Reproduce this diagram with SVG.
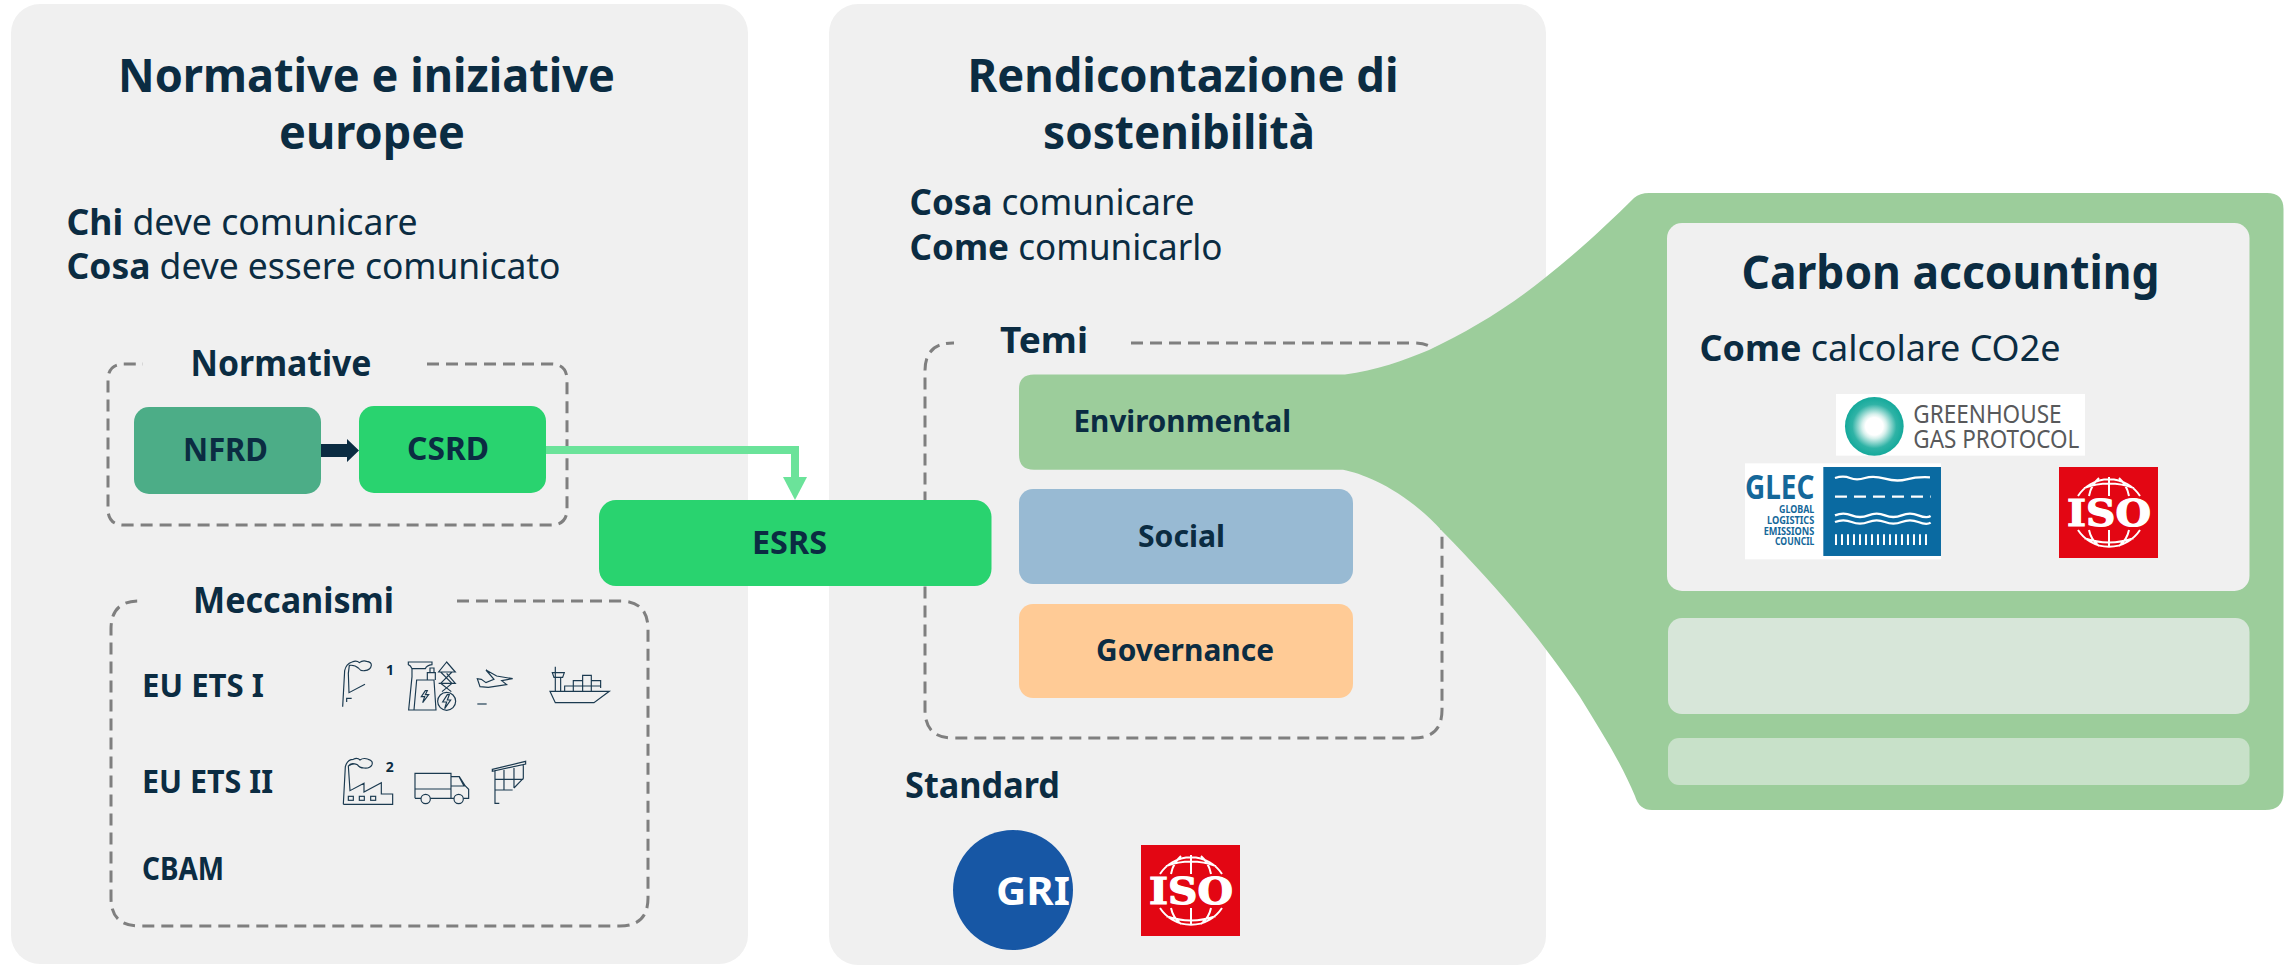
<svg xmlns="http://www.w3.org/2000/svg" width="2290" height="966" viewBox="0 0 2290 966">
<style>
text{font-family:"Noto Sans","Open Sans","DejaVu Sans",sans-serif;fill:#0b2c42}
.b{font-weight:700}
.r{font-weight:400}
.t{font-size:46px;font-weight:700}
.h{font-size:36px;font-weight:700}
.p{font-size:36px;font-weight:400}
.l{font-size:33px;font-weight:700}
.m{font-size:30px;font-weight:700}
.dash{fill:none;stroke:#7f7f7f;stroke-width:3;stroke-dasharray:12 7}
.ic{fill:none;stroke:#1b3a50;stroke-width:3.5}
.wh{fill:none;stroke:#fff;stroke-width:7}
.gl{font-weight:700;fill:#15689a}
.gh{font-size:75px;font-weight:400;fill:#58595b}
</style>
<defs>
<radialGradient id="ghg"><stop offset="0.3" stop-color="#ffffff"/><stop offset="0.42" stop-color="#d6f0ec"/><stop offset="0.75" stop-color="#2fb3a6"/><stop offset="1" stop-color="#14a99b"/></radialGradient>
<g id="iso">
<rect width="99" height="91" fill="#e30613"/>
<g fill="none" stroke="#fff" stroke-width="2">
<path d="M19 29A37 37 0 0 1 81 29M25 21Q50 12 75 21M50 10V29M40 11Q32 18 30 29M60 11Q68 18 70 29"/>
<path d="M19 63A37 37 0 0 0 81 63M25 71Q50 80 75 71M50 63V80M30 63Q32 73 40 79M70 63Q68 73 60 79"/>
</g>
<text x="8" y="59" font-size="38" textLength="84" lengthAdjust="spacingAndGlyphs" style="font-family:'DejaVu Serif',serif;font-weight:700;fill:#fff;stroke:#fff;stroke-width:1.200">ISO</text>
</g>
</defs>
<rect width="2290" height="966" fill="#fff"/>

<g id="panel-normative">
<rect x="11" y="4" width="737" height="960" rx="29" fill="#f0f0f0"/>
<text class="t" x="118" y="92" textLength="497" lengthAdjust="spacingAndGlyphs">Normative e iniziative</text>
<text class="t" x="279" y="149" textLength="186" lengthAdjust="spacingAndGlyphs">europee</text>
<text class="p" x="66.500" y="235" textLength="351" lengthAdjust="spacingAndGlyphs"><tspan class="b">Chi</tspan> deve comunicare</text>
<text class="p" x="66.500" y="279" textLength="494" lengthAdjust="spacingAndGlyphs"><tspan class="b">Cosa</tspan> deve essere comunicato</text>
</g>
<g id="panel-rendicontazione">
<rect x="829" y="4" width="717" height="961" rx="29" fill="#f0f0f0"/>
<text class="t" x="967.500" y="92" textLength="431" lengthAdjust="spacingAndGlyphs">Rendicontazione di</text>
<text class="t" x="1043" y="149" textLength="272" lengthAdjust="spacingAndGlyphs">sostenibilità</text>
<text class="p" x="909.500" y="215" textLength="285" lengthAdjust="spacingAndGlyphs"><tspan class="b">Cosa</tspan> comunicare</text>
<text class="p" x="909.500" y="260" textLength="313" lengthAdjust="spacingAndGlyphs"><tspan class="b">Come</tspan> comunicarlo</text>
</g>

<g id="group-normative">
<path class="dash" d="M427 364H551Q567 364 567 380V509Q567 525 551 525H124Q108 525 108 509V380Q108 364 124 364H143"/>
<text class="h" x="190.500" y="376" textLength="181" lengthAdjust="spacingAndGlyphs">Normative</text>
</g>
<g id="group-meccanismi">
<path class="dash" d="M457 601H620Q648 601 648 629V898Q648 926 620 926H139Q111 926 111 898V629Q111 601 139 601H143"/>
<text class="h" x="193" y="613" textLength="201" lengthAdjust="spacingAndGlyphs">Meccanismi</text>
</g>
<g id="mech-ets1">
<text class="l" x="142" y="697" textLength="122" lengthAdjust="spacingAndGlyphs">EU ETS I</text>
<g transform="translate(320 640) scale(.3333)">
<g class="ic">
<path d="M68 200L74 92Q78 72 96 66Q110 60 118 68Q128 60 140 64Q155 66 154 76Q152 90 134 92Q122 94 115 84Q105 74 88 76L85 100L87 158L135 133"/>
<path d="M80 186V175H95"/>
<path d="M265 66H336V74Q320 76 316 86H276Q272 76 265 74ZM276 86V110L266 210H348L342 120H290L282 210M322 120V98H346V120M330 98V84H342V98M316 152L304 170H314L308 188L326 164H316L322 152Z"/>
<circle cx="380" cy="184" r="27"/>
<path d="M382 164L368 186H380L374 206L392 180H382L388 164ZM380 66L356 96H406ZM362 96L396 130M396 96L362 130M356 130H406L380 100M362 130L394 155M396 130L366 155"/>
<path d="M498 90L530 108L578 116L545 122L560 134L505 142L480 140L472 116L484 118L498 128L522 118Z"/>
<path d="M472 192H500"/>
<path d="M690 154H868L822 188H706ZM706 154V100M722 154V112M697 98H733L728 112H702ZM706 98V80M734 154V138H760V154M760 154V122H788V154M788 154V106H814V154M814 154V122H842V144M760 138H842"/>
</g>
<text x="198" y="105" font-size="42" class="b">1</text>
</g>
</g>
<g id="mech-ets2">
<text class="l" x="142" y="793" textLength="131" lengthAdjust="spacingAndGlyphs">EU ETS II</text>
<g transform="translate(320 640) scale(.3333)">
<g class="ic">
<path d="M70 493H218V462H184V428L132 456V430L90 452L85 378Q92 368 104 372M70 493L76 380Q82 358 100 358Q112 352 120 360Q130 352 145 358Q160 362 156 374Q150 386 132 384Q118 384 112 374Q100 368 85 378"/>
<rect x="85" y="469" width="15" height="12"/><rect x="118" y="469" width="15" height="12"/><rect x="152" y="469" width="15" height="12"/>
<path d="M285 475V400H393V475M285 447H393M393 410H418L436 438L446 448V475H430M393 438H432L418 412M285 475H303M331 475H402"/>
<circle cx="317" cy="477" r="14"/><circle cx="416" cy="477" r="14"/>
<path d="M517 388L617 364V372L517 394ZM525 394V490H538M552 390V450M582 384V444M610 372V415L582 444M525 418H610M525 450H578"/>
</g>
<text x="197" y="395" font-size="42" class="b">2</text>
</g>
</g>
<g id="mech-cbam"><text class="l" x="142" y="880" textLength="82" lengthAdjust="spacingAndGlyphs">CBAM</text></g>

<g id="node-nfrd">
<rect x="134" y="407" width="187" height="87" rx="15" fill="#4cad87"/>
<text class="l" x="183" y="461" textLength="85" lengthAdjust="spacingAndGlyphs">NFRD</text>
</g>
<g id="node-csrd">
<rect x="359" y="406" width="187" height="87" rx="15" fill="#29d36f"/>
<text class="l" x="407" y="460" textLength="82" lengthAdjust="spacingAndGlyphs">CSRD</text>
</g>

<g id="temi">
<path class="dash" d="M1131 343H1414Q1442 343 1442 371V710Q1442 738 1414 738H953Q925 738 925 710V371Q925 343 953 343H954"/>
<text class="h" x="1000" y="353" textLength="88" lengthAdjust="spacingAndGlyphs">Temi</text>
</g>
<g id="node-carbon-callout">
<path fill="#9ccd9b" d="M1034 374.500H1345C1375 371 1405 360 1429 350C1470 330 1505 310 1546 277C1580 250 1610 222 1634 198Q1640 193 1649 193H2267Q2283.500 193 2283.500 209V792Q2283.500 810 2265 810H1652Q1639 810 1635 796C1620 760 1600 730 1580 697C1535 630 1490 580 1443 532C1405 490 1365 474 1343 469.700H1034Q1019 469.700 1019 455V389Q1019 374.500 1034 374.500Z"/>
<text class="m" x="1073.500" y="432" textLength="217.500" lengthAdjust="spacingAndGlyphs">Environmental</text>
</g>
<g id="node-social">
<rect x="1019" y="489" width="334" height="95" rx="14" fill="#98bad3"/>
<text class="m" x="1138" y="547" textLength="87" lengthAdjust="spacingAndGlyphs">Social</text>
</g>
<g id="node-governance">
<rect x="1019" y="604" width="334" height="94" rx="14" fill="#ffcb96"/>
<text class="m" x="1096" y="661" textLength="178" lengthAdjust="spacingAndGlyphs">Governance</text>
</g>
<g id="node-esrs">
<rect x="599" y="500" width="392.500" height="86" rx="17" fill="#29d36f"/>
<text class="l" x="752" y="554" textLength="75" lengthAdjust="spacingAndGlyphs">ESRS</text>
</g>

<g id="standard">
<text class="h" x="905" y="798" textLength="155" lengthAdjust="spacingAndGlyphs">Standard</text>
<circle cx="1013" cy="890" r="60" fill="#1757a5"/>
<text x="996" y="905" font-size="40" class="b" textLength="74" lengthAdjust="spacingAndGlyphs" style="fill:#fff">GRI</text>
<use href="#iso" x="1141" y="845"/>
</g>

<g id="carbon-card">
<rect x="1667" y="223" width="582.500" height="368" rx="15" fill="#f0f0f0"/>
<text class="t" x="1741.500" y="289" textLength="418" lengthAdjust="spacingAndGlyphs">Carbon accounting</text>
<text class="p" x="1699.500" y="361" textLength="361" lengthAdjust="spacingAndGlyphs"><tspan class="b">Come</tspan> calcolare CO2e</text>
<g transform="translate(1700 380) scale(.3333)">
<rect x="408" y="42" width="747" height="185" fill="#fff"/>
<circle cx="523" cy="139" r="88" fill="url(#ghg)"/>
<text class="gh"><tspan x="640" y="128" textLength="445" lengthAdjust="spacingAndGlyphs">GREENHOUSE</tspan><tspan x="640" y="205" textLength="498" lengthAdjust="spacingAndGlyphs">GAS PROTOCOL</tspan></text>
<rect x="135" y="250" width="588" height="288" fill="#fff"/>
<rect x="370" y="261" width="353" height="267" fill="#0a6aa1"/>
<text class="gl" x="135" y="358" textLength="208" lengthAdjust="spacingAndGlyphs" style="font-size:102px">GLEC</text>
<text class="gl" style="font-size:33px"><tspan x="237" y="400" textLength="106" lengthAdjust="spacingAndGlyphs">GLOBAL</tspan><tspan x="201" y="431" textLength="142" lengthAdjust="spacingAndGlyphs">LOGISTICS</tspan><tspan x="191" y="464" textLength="152" lengthAdjust="spacingAndGlyphs">EMISSIONS</tspan><tspan x="225" y="496" textLength="118" lengthAdjust="spacingAndGlyphs">COUNCIL</tspan></text>
<path class="wh" d="M405 294Q430 286 450 294T495 294T555 296T620 298T690 292"/>
<path class="wh" stroke-dasharray="36 21" d="M405 350H692"/>
<path class="wh" d="M405 406Q430 396 455 406T505 406T555 406T605 406T655 406T692 408M405 426Q430 416 455 426T505 426T555 426T605 426T655 426T692 428"/>
<path class="wh" stroke-dasharray="6 12" style="stroke-width:32px" d="M405 479H692"/>
</g>
<use href="#iso" x="2059" y="467"/>
</g>
<rect id="carbon-bar-2" x="1668" y="618" width="581.500" height="96" rx="14" fill="#d7e6d9"/>
<rect id="carbon-bar-3" x="1668" y="738" width="581.500" height="47" rx="11" fill="#c8e1c9"/>

<g id="connectors">
<path d="M321 444H347V439L359 450.500L347 462V457H321Z" fill="#0b2c42"/>
<path d="M546 450H795V478" fill="none" stroke="#6be39a" stroke-width="8"/>
<path d="M783 477H807L795 500Z" fill="#6be39a"/>
</g>
</svg>
